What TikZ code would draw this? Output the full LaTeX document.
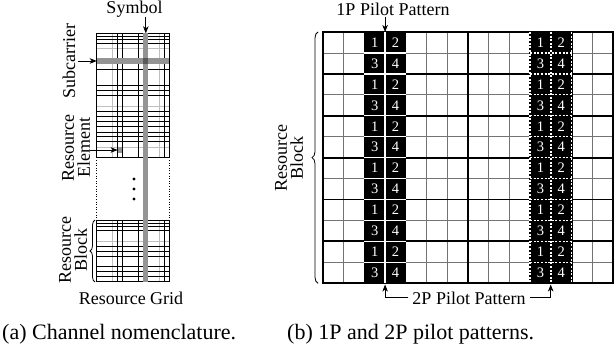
\documentclass[tikz,border=0pt]{standalone}
\usepackage{fontspec}
\setmainfont{Liberation Serif}
\usetikzlibrary{arrows.meta,decorations.pathreplacing}
\tikzset{
  lab/.style={font=\fontsize{18}{16}\selectfont, inner sep=0pt},
  captxt/.style={font=\fontsize{22}{24}\selectfont, inner sep=0pt, anchor=base west},
  num/.style={font=\fontsize{14.5}{14.5}\selectfont, text=white, inner sep=0pt},
  arr/.style={-{Stealth[length=7pt,width=5.5pt,inset=2pt]}, line width=0.7pt},
  thinln/.style={line width=0.8pt, black!55},
  thickln/.style={line width=1.8pt, black},
  sep/.style={line width=1.3pt, white},
  dsep/.style={line width=1.3pt, white, dash pattern=on 2pt off 1.6pt},
  gline/.style={line width=0.6pt, black},
  glight/.style={line width=0.6pt, black!25},
  bracest/.style={decorate, decoration={brace, amplitude=6pt}, line width=0.8pt}
}
\begin{document}
\begin{tikzpicture}[x=1pt,y=-1pt]
\useasboundingbox (0,0) rectangle (614,344);
\fill[white] (0,0) rectangle (614,344);

% ---------- (a) resource grid ----------
\def\xL{96.7} \def\xR{169.3}
% upper block
\foreach \x in {112.3,159} \draw[glight] (\x,33.3) -- (\x,157.5);
\foreach \y in {48.3,106.7,147.3} \draw[glight] (\xL,\y) -- (\xR,\y);
\foreach \x in {96.7,117.3,122.3,138.3,164,169.3} \draw[gline] (\x,33.3) -- (\x,157.5);
\foreach \y in {33.3,36,39,43.3,69.3,85.5,90.5,95,111,116,121,126.7,132.5,136.7,141.7,157.5}
  \draw[gline] (\xL,\y) -- (\xR,\y);
% lower block
\foreach \x in {112.3,159} \draw[glight] (\x,220) -- (\x,281.7);
\draw[glight] (\xL,241.7) -- (\xR,241.7);
\foreach \x in {96.7,117.3,122.3,138.3,164,169.3} \draw[gline] (\x,220) -- (\x,281.7);
\foreach \y in {220,223,226.5,230.5,246.7,251.5,256.7,266.7,271.5,276,281.7}
  \draw[gline] (\xL,\y) -- (\xR,\y);
% dotted sides
\draw[line width=0.6pt, dotted] (\xL,157.5) -- (\xL,220);
\draw[line width=0.6pt, dotted] (\xR,157.5) -- (\xR,220);
% symbol and subcarrier bands
\fill[black!42] (143.3,33.3) rectangle (148.3,282.5);
\fill[black!42] (\xL,58.3) rectangle (\xR,64);
\fill[black!65] (143.3,58.3) rectangle (148.3,64);
% resource element
\fill[black!42] (117.6,147.5) rectangle (122.1,152.7);
% dots
\foreach \y/\n in {179/1,189/2,199/3} \fill (134,\y) circle (1.6pt) coordinate (dot\n);

% labels (a)
\node[lab] (sym) at (134.5,9) {Symbol};
\coordinate (symA) at (145.8,17);
\coordinate (symB) at (145.8,33.3);
\draw[arr] (symA) -- (symB);

\node[lab, rotate=90] (sub) at (69,61) {Subcarrier};
\coordinate (subA) at (78,61);
\coordinate (subB) at (96.7,61);
\draw[arr] (subA) -- (subB);

\node[lab, rotate=90, align=center] (re) at (76,148) {Resource\\Element};
\coordinate (reA) at (90,150);
\coordinate (reB) at (117.6,150);
\draw[arr] (reA) -- (reB);

\node[lab, rotate=90, align=center] (rba) at (73,250) {Resource\\Block};
\coordinate (brA1) at (95,282);
\coordinate (brA2) at (95,220);
\draw[bracest, decoration={amplitude=5pt}] (brA1) -- (brA2);

\node[lab] (rg) at (131,298) {Resource Grid};

% ---------- (b) pilot patterns ----------
\def\gx{323} \def\gw{20.714} \def\gy{32} \def\gh{20.94}
\def\gb{283.3} \def\gr{613}
% thin lines
\foreach \i in {1,...,13} \draw[thinln] (\gx+\i*\gw,\gy) -- (\gx+\i*\gw,\gb);
\foreach \j in {1,3,...,11} \draw[thinln] (\gx,\gy+\j*\gh) -- (\gr,\gy+\j*\gh);
% thick lines
\foreach \j in {0,2,...,12} \draw[thickln] (\gx-0.9,\gy+\j*\gh) -- (\gr+0.9,\gy+\j*\gh);
\foreach \i in {0,7,14} \draw[thickln] (\gx+\i*\gw,\gy) -- (\gx+\i*\gw,\gb);
% pilot columns
\fill (\gx+2*\gw,\gy-0.9) rectangle (\gx+4*\gw,\gb+0.9);
\fill (\gx+10*\gw-1,\gy-0.9) rectangle (\gx+12*\gw+1,\gb+0.9);
% 1P separators
\draw[sep] (\gx+3*\gw,\gy) -- (\gx+3*\gw,\gb);
\foreach \j in {1,...,11} \draw[sep] (\gx+2*\gw,\gy+\j*\gh) -- (\gx+4*\gw,\gy+\j*\gh);
% 2P separators
\foreach \i in {10,11,12} \draw[dsep] (\gx+\i*\gw,\gy) -- (\gx+\i*\gw,\gb);
\foreach \j in {1,...,11} \draw[dsep] (\gx+10*\gw,\gy+\j*\gh) -- (\gx+12*\gw,\gy+\j*\gh);
% numbers
\foreach \r in {0,...,11}{
  \pgfmathsetmacro{\yy}{\gy+(\r+0.5)*\gh}
  \pgfmathtruncatemacro{\odd}{mod(\r,2)}
  \ifnum\odd=0 \def\na{1}\def\nb{2}\else \def\na{3}\def\nb{4}\fi
  \node[num] (pa\r) at (\gx+2.5*\gw,\yy) {\na};
  \node[num] (pb\r) at (\gx+3.5*\gw,\yy) {\nb};
  \node[num] (qa\r) at (\gx+10.5*\gw,\yy) {\na};
  \node[num] (qb\r) at (\gx+11.5*\gw,\yy) {\nb};
}

% labels (b)
\node[lab] (p1) at (393,9) {1P Pilot Pattern};
\coordinate (p1A) at (385.1,17);
\coordinate (p1B) at (385.1,32);
\draw[arr] (p1A) -- (p1B);

\node[lab] (p2) at (469,298) {2P Pilot Pattern};
\coordinate (p2L) at (385.1,284.5);
\coordinate (p2R) at (550.7,284.5);
\draw[arr] ([xshift=-4pt]p2.west |- 0,297) -- (p2L |- 0,297) -- (p2L);
\draw[arr] ([xshift=4pt]p2.east |- 0,297) -- (p2R |- 0,297) -- (p2R);

\node[lab, rotate=90, align=center] (rbb) at (289,158) {Resource\\Block};
\coordinate (brB1) at (318,283.3);
\coordinate (brB2) at (318,32);
\draw[bracest] (brB1) -- (brB2);

% captions
\node[captxt] (capa) at (2,339.5) {(a) Channel nomenclature.};
\node[captxt] (capb) at (287,339.5) {(b) 1P and 2P pilot patterns.};
\end{tikzpicture}
\end{document}
